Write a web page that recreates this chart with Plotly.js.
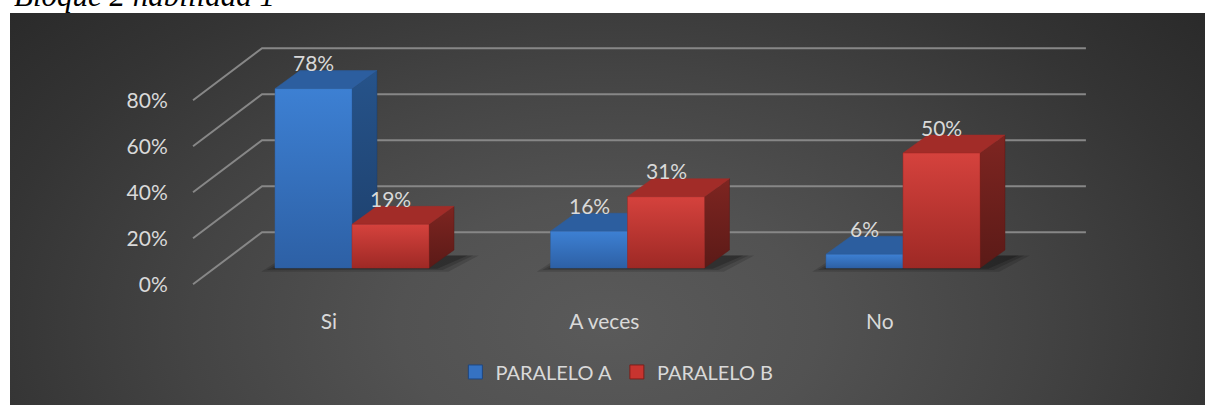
<!DOCTYPE html>
<html><head><meta charset="utf-8">
<script src="https://cdn.plot.ly/plotly-3.0.1.min.js"></script>
<style>
html,body{margin:0;padding:0;background:#fff;width:1213px;height:405px;overflow:hidden}
#bg{position:absolute;left:10px;top:13px;width:1195px;height:392px;
background:radial-gradient(ellipse 70% 130% at 50% 80%, #5a5a5a 0%, #525252 25%, #444444 50%, #343434 75%, #272727 100%);}
#chart{position:absolute;left:0;top:0;width:1213px;height:405px}
</style></head><body><div id="bg"></div><div id="chart"></div>
<script>
// ---- data ----
const categories = ['Si', 'A veces', 'No'];
const paraleloA = [78, 16, 6];
const paraleloB = [19, 31, 50];
const seriesNames = ['PARALELO A', 'PARALELO B'];
const yTickValues = [0, 20, 40, 60, 80];
const yTickLabels = ['0%', '20%', '40%', '60%', '80%'];
const chartTitle = 'Bloque 2 habilidad 1';

// ---- pseudo-3D geometry (style) ----
const BAR_W = 0.2795;     // bar width in category units
const BASE = 7.07;        // front face base (depth offset into the box)
const TOP_DX = 0.0907, TOP_DY = 7.83;   // bar depth projection
const WALL_X0 = -0.5771, WALL_DX = 0.2505, WALL_DY = 22.6, WALL_X1 = 2.664;
const LABEL_DX = -0.084;

const FONT = 'Lato, "Open Sans", sans-serif';
const TXT = '#d9d9d9';

const seriesStyle = [
  {front: ['#2d60a5', '#3d80d3'], top: '#2c5e9f', side: ['#1d3f6b', '#26538a'], legend: '#3572c2', legendLine: '#1e4780'},
  {front: ['#9e2925', '#d5423d'], top: '#a22c28', side: ['#5b1a17', '#7e2521'], legend: '#c8342f', legendLine: '#7a1f1b'}
];
const seriesData = [paraleloA, paraleloB];

const traces = [];

// wall gridlines (side wall diagonals + back wall horizontals)
const gx = [], gy = [];
yTickValues.forEach(t => {
  gx.push(WALL_X0, WALL_X0 + WALL_DX, WALL_X1, null);
  gy.push(t, t + WALL_DY, t + WALL_DY, null);
});
traces.push({type: 'scatter', mode: 'lines', x: gx, y: gy, line: {color: '#878787', width: 2},
  hoverinfo: 'skip', showlegend: false});

// shadows under bars
categories.forEach((c, i) => {
  const x0 = i - BAR_W, x1 = i + BAR_W;
  [[0.05, 1.6, 0.14], [0.03, 0.9, 0.16], [0.01, 0.3, 0.2]].forEach(([ex, ey, a]) => {
    traces.push({type: 'scatter', mode: 'lines', fill: 'toself',
      x: [x0 - ex, x1 + ex + 0.02, x1 + TOP_DX + ex + 0.04, x0 + TOP_DX - ex, x0 - ex],
      y: [BASE - ey, BASE - ey, BASE + TOP_DY * 0.7, BASE + TOP_DY * 0.7, BASE - ey],
      line: {width: 0, color: 'rgba(0,0,0,0)'}, fillcolor: 'rgba(0,0,0,' + a + ')',
      hoverinfo: 'skip', showlegend: false});
  });
});

// bars: side, top, front faces
seriesData.forEach((vals, s) => {
  const st = seriesStyle[s];
  vals.forEach((v, i) => {
    const x0 = s === 0 ? i - BAR_W : i;
    const x1 = x0 + BAR_W;
    const yb = BASE, yt = BASE + v;
    // side face
    traces.push({type: 'scatter', mode: 'lines', fill: 'toself',
      x: [x1, x1 + TOP_DX, x1 + TOP_DX, x1, x1],
      y: [yb, yb + TOP_DY, yt + TOP_DY, yt, yb],
      line: {width: 0.5, color: st.side[0]},
      fillgradient: {type: 'vertical', colorscale: [[0, st.side[0]], [1, st.side[1]]]},
      hoverinfo: 'skip', showlegend: false});
    // top face
    traces.push({type: 'scatter', mode: 'lines', fill: 'toself',
      x: [x0, x1, x1 + TOP_DX, x0 + TOP_DX, x0],
      y: [yt, yt, yt + TOP_DY, yt + TOP_DY, yt],
      line: {width: 0.5, color: st.top}, fillcolor: st.top,
      hoverinfo: 'skip', showlegend: false});
    // front face
    traces.push({type: 'scatter', mode: 'lines', fill: 'toself',
      x: [x0, x1, x1, x0, x0],
      y: [yb, yb, yt, yt, yb],
      line: {width: 0.5, color: st.front[0]},
      fillgradient: {type: 'vertical', colorscale: [[0, st.front[0]], [1, st.front[1]]]},
      hoverinfo: 'skip', showlegend: false});
  });
});

// legend entries
seriesNames.forEach((n, s) => {
  traces.push({type: 'scatter', mode: 'markers', x: [null], y: [null], name: n,
    marker: {symbol: 'square', size: 14, color: seriesStyle[s].legend,
      line: {color: seriesStyle[s].legendLine, width: 1}},
    showlegend: true});
});

// data labels
const annotations = [];
seriesData.forEach((vals, s) => {
  vals.forEach((v, i) => {
    const xc = (s === 0 ? i - BAR_W : i) + BAR_W / 2;
    annotations.push({x: xc, y: BASE + v + TOP_DY, xref: 'x', yref: 'y', text: v + '%',
      showarrow: false, yanchor: 'middle', yshift: 8,
      font: {family: FONT, size: 21, color: TXT}});
  });
});
// chart title (cropped at top of the picture, as in the reference)
annotations.push({xref: 'paper', yref: 'paper', x: -0.189, y: 1.018, xanchor: 'left', yanchor: 'bottom',
  text: '<i>' + chartTitle + '</i>', showarrow: false,
  font: {family: '"Liberation Serif", "Times New Roman", serif', size: 31, color: '#000'}});

const layout = {
  width: 1213, height: 405,
  margin: {l: 185, r: 113, t: 20, b: 105},
  paper_bgcolor: 'rgba(0,0,0,0)', plot_bgcolor: 'rgba(0,0,0,0)',
  hovermode: false,
  showlegend: true,
  xaxis: {range: [-0.6062, 2.7151], tickvals: categories.map((c, i) => i + LABEL_DX), ticktext: categories,
    showgrid: false, zeroline: false, showline: false, ticks: 'outside', ticklen: 3, tickcolor: 'rgba(0,0,0,0)',
    tickfont: {family: FONT, size: 21, color: TXT}, fixedrange: true},
  yaxis: {range: [-6.826, 114.91], tickvals: yTickValues, ticktext: yTickLabels,
    showgrid: false, zeroline: false, showline: false, ticks: 'outside', ticklen: 12, tickcolor: 'rgba(0,0,0,0)',
    tickfont: {family: FONT, size: 21, color: TXT}, fixedrange: true},
  legend: {orientation: 'h', x: 0.472, xanchor: 'center', y: -0.257, yanchor: 'middle',
    font: {family: FONT, size: 20, color: TXT}, bgcolor: 'rgba(0,0,0,0)', itemwidth: 30},
  annotations: annotations
};

Plotly.newPlot('chart', traces, layout, {staticPlot: true, displayModeBar: false});
</script></body></html>
